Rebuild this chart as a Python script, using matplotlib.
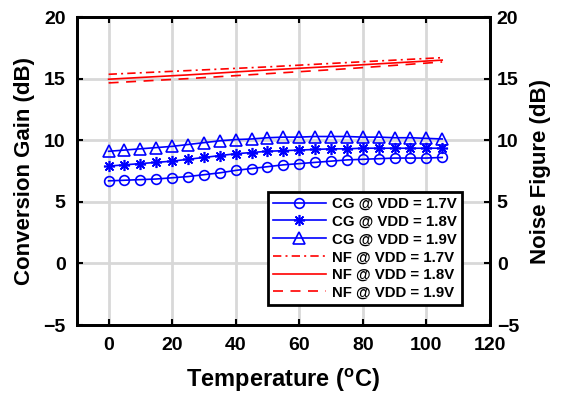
import matplotlib
matplotlib.use('Agg')
import matplotlib.pyplot as plt

plt.rcParams['font.family'] = ['Liberation Sans', 'DejaVu Sans']
plt.rcParams['font.weight'] = 'bold'
plt.rcParams['mathtext.fontset'] = 'custom'
plt.rcParams['mathtext.rm'] = 'Liberation Sans:bold'
plt.rcParams['mathtext.bf'] = 'Liberation Sans:bold'

# temperature sweep (deg C)
temp = [0, 5, 10, 15, 20, 25, 30, 35, 40, 45, 50,
        55, 60, 65, 70, 75, 80, 85, 90, 95, 100, 105]

# conversion gain (dB)
cg_17 = [6.7, 6.75, 6.8, 6.85, 6.95, 7.05, 7.2, 7.35, 7.55, 7.7, 7.85,
         8.0, 8.1, 8.2, 8.3, 8.4, 8.45, 8.5, 8.55, 8.55, 8.55, 8.6]
cg_18 = [7.9, 8.0, 8.1, 8.2, 8.3, 8.45, 8.6, 8.75, 8.9, 9.0, 9.1,
         9.15, 9.2, 9.25, 9.3, 9.3, 9.35, 9.35, 9.35, 9.35, 9.35, 9.35]
cg_19 = [9.1, 9.2, 9.3, 9.4, 9.5, 9.65, 9.8, 9.95, 10.05, 10.1, 10.2,
         10.25, 10.25, 10.3, 10.3, 10.3, 10.25, 10.25, 10.2, 10.2, 10.15, 10.1]

# noise figure (dB)
nf_temp = [0, 25, 50, 75, 105]
nf_17 = [15.35, 15.65, 15.95, 16.3, 16.7]
nf_18 = [14.95, 15.3, 15.7, 16.05, 16.5]
nf_19 = [14.65, 15.0, 15.4, 15.8, 16.35]

fig = plt.figure(figsize=(5.65, 4.0), dpi=100)
ax = fig.add_axes([0.136, 0.1875, 0.731, 0.77])
ax2 = ax.twinx()

blue = '#0000ff'
red = '#ff0000'
h1, = ax.plot(temp, cg_17, color=blue, lw=1.2, marker='o', ms=7, mfc='none', mew=1.2,
              label='CG @ VDD = 1.7V')
h2, = ax.plot(temp, cg_18, color=blue, lw=1.2, marker=(8, 2, 0), ms=8, mfc='none', mew=1.2,
              label='CG @ VDD = 1.8V')
h3, = ax.plot(temp, cg_19, color=blue, lw=1.2, marker='^', ms=8, mfc='none', mew=1.2,
              label='CG @ VDD = 1.9V')
h4, = ax2.plot(nf_temp, nf_17, color=red, lw=1.2, ls='-.', dashes=(5, 2.5, 1.2, 2.5),
               label='NF @ VDD = 1.7V')
h5, = ax2.plot(nf_temp, nf_18, color=red, lw=1.2, ls='-', label='NF @ VDD = 1.8V')
h6, = ax2.plot(nf_temp, nf_19, color=red, lw=1.2, ls='--', dashes=(6, 4.5),
               label='NF @ VDD = 1.9V')

for a in (ax, ax2):
    a.set_xlim(-10, 120)
    a.set_ylim(-5, 20)
    a.set_yticks([-5, 0, 5, 10, 15, 20])
    for s in a.spines.values():
        s.set_linewidth(2)
    a.tick_params(direction='in', length=4, width=1.5, labelsize=14)

ax.set_xticks([0, 20, 40, 60, 80, 100, 120])
ax.tick_params(top=True)
ax.tick_params(axis='x', pad=9)
ax.tick_params(axis='y', pad=8)
ax2.tick_params(axis='y', pad=5)
ax.grid(True, color='#d8d8d8', lw=2)
ax.set_axisbelow(True)

ax.set_xlabel('Temperature ($^{\\mathrm{o}}$C)', fontsize=17, fontweight='bold', labelpad=8)
ax.set_ylabel('Conversion Gain (dB)', fontsize=16, fontweight='bold', labelpad=6)
ax2.set_ylabel('Noise Figure (dB)', fontsize=16, fontweight='bold', labelpad=8)

leg = ax2.legend(handles=[h1, h2, h3, h4, h5, h6], loc='lower right',
                 bbox_to_anchor=(0.932, 0.065), fontsize=10.8, frameon=True,
                 fancybox=False, edgecolor='black', framealpha=1,
                 borderpad=0.35, labelspacing=0.25, handlelength=3.5,
                 handletextpad=0.4, borderaxespad=0)
leg.get_frame().set_linewidth(2)
for t in leg.get_texts():
    t.set_fontweight('bold')

fig.savefig('out.png', dpi=100)
